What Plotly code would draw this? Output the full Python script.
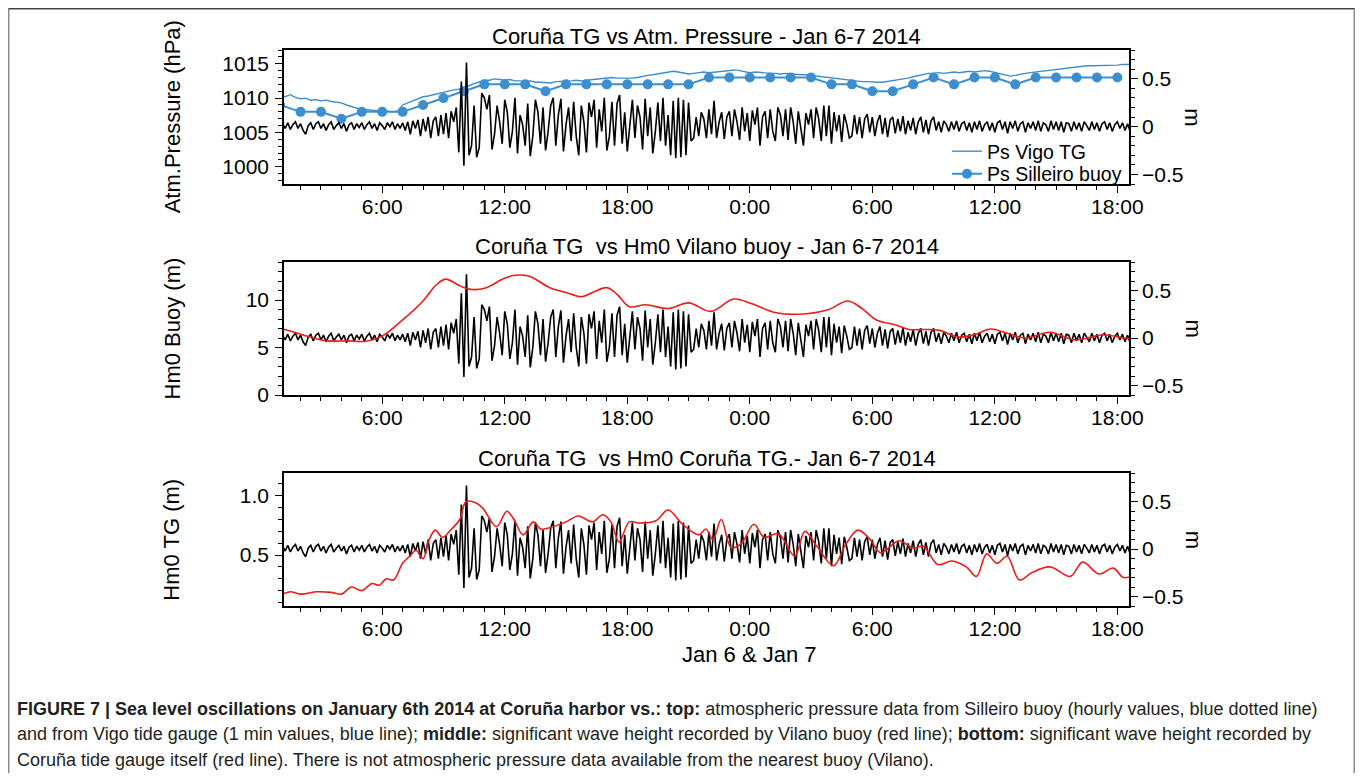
import numpy as np
import plotly.graph_objects as go

# ------------------------------------------------------------------ data
# time axis: hours since Jan 6 2014 00:00
hour_tick_vals = [6, 12, 18, 24, 30, 36, 42]
hour_tick_text = ['6:00', '12:00', '18:00', '0:00', '6:00', '12:00', '18:00']

# Coruña tide gauge sea-level oscillation (m), sampled every 7.5 min from 01:00 Jan 6
coruna_start_h = 1.0
coruna_step_h = 0.125
coruna_sea_level_m = [
    0.02, 0.03, -0.02, 0.04, -0.03, 0.02, 0.05, -0.02,    # 1h
    0.03, -0.04, -0.08, 0.01, 0.04, -0.03, 0.03, 0.05,    # 2h
    -0.02, 0.03, -0.04, 0.02, 0.05, -0.03, 0.01, 0.04,    # 3h
    -0.02, 0.03, -0.05, 0.02, 0.04, -0.03, 0.03, -0.01,   # 4h
    0.04, -0.03, 0.02, 0.05, -0.02, 0.03, -0.04, 0.04,    # 5h
    0.01, -0.03, 0.04, 0.00, 0.05, -0.03, 0.03, -0.02,    # 6h
    0.04, -0.04, 0.05, -0.08, 0.06, -0.02, 0.07, -0.10,   # 7h
    0.08, -0.05, 0.10, -0.12, 0.06, 0.10, -0.10, 0.12,    # 8h
    -0.08, 0.14, -0.12, 0.16, 0.05, 0.20, -0.27, 0.47,    # 9h
    -0.41, 0.67, -0.30, -0.20, 0.22, -0.32, -0.22, 0.35,  # 10h
    0.30, 0.18, 0.33, -0.24, -0.08, 0.22, 0.05, -0.18,    # 11h
    0.28, 0.15, -0.22, -0.05, 0.30, -0.28, 0.12, 0.02,    # 12h
    -0.20, 0.24, -0.31, -0.10, 0.28, 0.15, -0.18, 0.20,   # 13h
    -0.25, -0.05, 0.22, 0.30, -0.20, 0.12, 0.29, -0.26,   # 14h
    0.02, 0.20, -0.15, 0.26, -0.10, -0.30, 0.22, 0.05,    # 15h
    -0.27, 0.25, 0.10, 0.28, -0.22, 0.18, -0.05, 0.30,    # 16h
    -0.25, -0.10, 0.26, -0.20, 0.24, 0.33, -0.18, 0.15,   # 17h
    -0.26, 0.05, 0.28, -0.12, 0.22, 0.10, -0.24, 0.29,    # 18h
    -0.10, 0.20, -0.28, -0.05, 0.25, -0.15, 0.30, -0.20,  # 19h
    0.12, -0.30, 0.27, -0.33, 0.30, -0.32, 0.28, -0.30,   # 20h
    0.25, -0.15, -0.12, 0.10, -0.10, 0.15, 0.08, -0.12,   # 21h
    0.18, -0.08, 0.27, -0.12, 0.05, 0.15, -0.13, 0.10,    # 22h
    0.16, -0.10, 0.18, 0.05, -0.14, 0.20, -0.05, 0.14,    # 23h
    -0.15, 0.17, 0.02, 0.20, -0.20, 0.10, 0.16, -0.12,    # 24h
    0.18, -0.05, -0.15, 0.20, 0.12, -0.10, 0.18, -0.14,   # 25h
    0.20, 0.05, -0.18, 0.16, -0.05, -0.20, 0.14, 0.02,    # 26h
    0.18, -0.12, 0.20, 0.08, -0.15, 0.22, -0.10, 0.22,    # 27h
    -0.18, 0.15, -0.05, 0.12, -0.16, 0.13, 0.02, -0.12,   # 28h
    -0.10, 0.12, -0.08, 0.10, -0.12, 0.08, 0.13, -0.06,   # 29h
    0.10, -0.10, 0.05, 0.12, -0.08, 0.09, -0.11, 0.07,    # 30h
    0.10, -0.07, 0.08, -0.05, 0.11, -0.08, 0.06, -0.04,   # 31h
    0.09, -0.08, 0.05, 0.10, -0.06, 0.07, -0.08, 0.06,    # 32h
    0.10, -0.04, 0.05, -0.06, 0.06, 0.02, -0.05, 0.05,    # 33h
    -0.03, 0.06, -0.05, 0.03, 0.05, -0.04, 0.04, -0.06,   # 34h
    0.05, -0.03, 0.06, -0.05, 0.02, 0.05, -0.04, 0.04,    # 35h
    -0.06, 0.04, 0.06, -0.03, 0.05, -0.07, 0.05, -0.02,   # 36h
    0.06, -0.05, 0.03, 0.05, -0.06, 0.04, -0.02, 0.05,    # 37h
    -0.04, 0.06, -0.05, 0.04, 0.02, -0.05, 0.06, -0.03,   # 38h
    0.05, -0.04, 0.05, -0.06, 0.04, 0.03, -0.05, 0.05,    # 39h
    -0.03, 0.04, -0.05, 0.05, 0.01, -0.04, 0.05, -0.03,   # 40h
    0.04, -0.05, 0.03, 0.05, -0.03, 0.04, -0.05, 0.02,    # 41h
    0.05, -0.02, 0.04, -0.04, 0.03, -0.05, 0.02, 0.01,    # 42h
]

# Vigo tide gauge atmospheric pressure (hPa), every 15 min from 01:00 Jan 6
vigo_start_h = 1.0
vigo_step_h = 0.25
vigo_pressure_hpa = [
    1010.4, 1010.2, 1010.5, 1010.1, 1009.9, 1010.0, 1009.7, 1009.8,
    1009.6, 1009.7, 1009.5, 1009.4, 1009.3, 1009.0, 1008.8, 1008.5,
    1008.3, 1008.3, 1008.2, 1008.2, 1008.1, 1008.1, 1008.0, 1008.1,
    1009.0, 1009.3, 1009.6, 1009.9, 1010.2, 1010.3, 1010.5, 1010.7,
    1010.8, 1011.0, 1011.2, 1011.3, 1011.5, 1011.8, 1012.1, 1012.4,
    1012.6, 1012.6, 1012.8, 1012.7, 1012.6, 1012.7, 1012.5, 1012.5,
    1012.4, 1012.5, 1012.3, 1012.3, 1012.3, 1012.2, 1012.4, 1012.4,
    1012.5, 1012.5, 1012.6, 1012.5, 1012.6, 1012.7, 1012.8, 1012.9,
    1013.0, 1013.0, 1012.9, 1012.9, 1012.8, 1012.9, 1013.0, 1013.2,
    1013.3, 1013.4, 1013.5, 1013.6, 1013.8, 1013.9, 1013.8, 1013.6,
    1013.5, 1013.6, 1013.7, 1013.8, 1013.7, 1013.8, 1013.9, 1014.0,
    1014.0, 1014.1, 1014.0, 1013.8, 1013.7, 1013.8, 1013.7, 1013.6,
    1013.6, 1013.6, 1013.5, 1013.6, 1013.5, 1013.5, 1013.4, 1013.4,
    1013.3, 1013.2, 1013.1, 1013.0, 1012.9, 1012.8, 1012.7, 1012.6,
    1012.5, 1012.5, 1012.4, 1012.4, 1012.3, 1012.3, 1012.3, 1012.4,
    1012.5, 1012.6, 1012.8, 1012.9, 1013.1, 1013.3, 1013.5, 1013.6,
    1013.6, 1013.7, 1013.6, 1013.7, 1013.8, 1013.7, 1013.8, 1013.9,
    1013.8, 1013.9, 1014.0, 1013.9, 1013.7, 1013.5, 1013.3, 1013.2,
    1013.3, 1013.5, 1013.6, 1013.7, 1013.8, 1013.8, 1013.9, 1014.0,
    1014.1, 1014.2, 1014.4, 1014.5, 1014.6, 1014.6, 1014.7, 1014.7,
    1014.7, 1014.8, 1014.8, 1014.8, 1014.8, 1014.9, 1014.9, 1014.9,
]

# Silleiro buoy atmospheric pressure (hPa), hourly
silleiro_hours = list(range(1, 43))
silleiro_pressure_hpa = [
    1009, 1008, 1008, 1007, 1008, 1008, 1008, 1009, 1010, 1011,
    1012, 1012, 1012, 1011, 1012, 1012, 1012, 1012, 1012, 1012,
    1012, 1013, 1013, 1013, 1013, 1013, 1013, 1012, 1012, 1011,
    1011, 1012, 1013, 1012, 1013, 1013, 1012, 1013, 1013, 1013,
    1013, 1013,
]

# Hm0 Vilano buoy (m)
vilano_hours = [1.0, 1.23, 2.3, 3.3, 4.4, 5.2, 6.0, 7.0, 8.0, 8.6, 9.1, 9.8,
                10.4, 11.1, 11.9, 12.5, 13.2, 14.2, 15.0, 15.8, 16.3, 17.0,
                17.5, 18.1, 18.9, 20.0, 21.0, 22.1, 23.2, 24.1, 25.3, 26.4,
                27.8, 28.8, 29.5, 30.2, 31.1, 31.8, 32.6, 33.3, 34.2, 35.0,
                35.8, 36.6, 37.5, 38.7, 39.9, 41.3, 42.3, 42.8]
vilano_hm0_m = [7.0, 6.9, 6.2, 5.7, 5.7, 5.65, 6.2, 7.9, 9.9, 11.5, 12.2, 11.5,
                11.1, 11.3, 12.2, 12.6, 12.5, 11.3, 10.8, 10.35, 10.8, 11.3,
                10.6, 9.3, 9.5, 9.1, 9.7, 8.8, 10.1, 9.6, 8.65, 8.5,
                8.95, 9.9, 9.1, 7.9, 7.4, 6.9, 6.9, 6.8, 6.1, 6.35,
                6.95, 6.5, 6.0, 6.6, 5.8, 6.35, 6.0, 5.9]

# Hm0 Coruña tide gauge (m)
tg_hours = [1.0, 1.23, 1.5, 2.0, 2.8, 3.5, 4.0, 4.5, 5.0, 5.5, 5.85, 6.2, 6.55,
            7.0, 7.4, 7.65, 8.0, 8.3, 8.6, 8.95, 9.4, 9.8, 10.1, 10.6, 10.95,
            11.6, 12.1, 12.45, 12.9, 13.4, 13.75, 14.2, 15.0, 15.6, 16.3, 16.8,
            17.2, 17.6, 18.1, 18.6, 19.4, 20.0, 20.7, 21.5, 21.85, 22.2, 22.6,
            23.1, 23.6, 24.2, 24.7, 25.4, 26.2, 26.7, 27.3, 28.1, 28.7, 29.3,
            29.9, 30.4, 31.3, 32.0, 32.5, 33.2, 33.9, 34.6, 35.1, 35.6, 36.1,
            36.6, 37.2, 37.8, 38.7, 39.7, 40.3, 41.1, 41.8, 42.3, 42.8]
tg_hm0_m = [0.18, 0.177, 0.19, 0.17, 0.19, 0.185, 0.17, 0.23, 0.20, 0.26, 0.245, 0.30, 0.29,
            0.43, 0.50, 0.54, 0.47, 0.63, 0.71, 0.65, 0.72, 0.80, 0.95, 0.94, 0.89,
            0.74, 0.87, 0.80, 0.67, 0.78, 0.72, 0.73, 0.78, 0.83, 0.78, 0.84,
            0.78, 0.61, 0.78, 0.77, 0.79, 0.88, 0.76, 0.67, 0.72, 0.63, 0.80,
            0.56, 0.60, 0.76, 0.65, 0.68, 0.49, 0.70, 0.57, 0.41, 0.59, 0.71,
            0.63, 0.52, 0.62, 0.56, 0.575, 0.42, 0.45, 0.40, 0.32, 0.51, 0.43,
            0.49, 0.29, 0.35, 0.40, 0.32, 0.44, 0.34, 0.39, 0.31, 0.33]

titles = ['Coruña TG vs Atm. Pressure - Jan 6-7 2014',
          'Coruña TG  vs Hm0 Vilano buoy - Jan 6-7 2014',
          'Coruña TG  vs Hm0 Coruña TG.- Jan 6-7 2014']
left_titles = ['Atm.Pressure (hPa)', 'Hm0 Buoy (m)', 'Hm0 TG (m)']

# ------------------------------------------------------------------ figure
# the page body adds an 8px margin; the figure is sized to fit inside the window
OFF = 8
W, H = 1363 - 2 * OFF, 781 - 2 * OFF
ML = 284 - OFF                  # left axis at window x=284
PLOT_R = 1129 - OFF             # right axis at window x=1129
PLOT_T = 50 - OFF               # top of first panel at window y=50
PLOT_B = 606 - OFF              # bottom of last panel at window y=606
MR, MT, MB = W - PLOT_R, PLOT_T, H - PLOT_B
PW, PH = W - ML - MR, H - MT - MB


def px_x(p):
    """window pixel x -> paper x"""
    return (p - OFF - ML) / PW


def px_y(p):
    """window pixel y -> paper y"""
    return (PLOT_B - (p - OFF)) / PH


FONT = 'Liberation Sans, Arial, Helvetica, sans-serif'
BLUE = '#3d8ecf'
RED = '#ee1b1b'

coruna_t = coruna_start_h + coruna_step_h * np.arange(len(coruna_sea_level_m))
vigo_t = vigo_start_h + vigo_step_h * np.arange(len(vigo_pressure_hpa))

fig = go.Figure()
# top panel
fig.add_trace(go.Scatter(x=vigo_t, y=vigo_pressure_hpa, xaxis='x', yaxis='y',
                         mode='lines', line=dict(color=BLUE, width=1.4),
                         name='Ps Vigo TG', legend='legend'))
fig.add_trace(go.Scatter(x=silleiro_hours, y=silleiro_pressure_hpa, xaxis='x', yaxis='y',
                         mode='lines+markers', line=dict(color=BLUE, width=2),
                         marker=dict(color=BLUE, size=10), name='Ps Silleiro buoy',
                         legend='legend2'))
fig.add_trace(go.Scatter(x=coruna_t, y=coruna_sea_level_m, xaxis='x', yaxis='y2',
                         mode='lines', line=dict(color='black', width=1.6),
                         showlegend=False))
# middle panel
fig.add_trace(go.Scatter(x=coruna_t, y=coruna_sea_level_m, xaxis='x2', yaxis='y3',
                         mode='lines', line=dict(color='black', width=1.6),
                         showlegend=False))
fig.add_trace(go.Scatter(x=vilano_hours, y=vilano_hm0_m, xaxis='x2', yaxis='y4',
                         mode='lines', line=dict(color=RED, width=1.6, shape='spline', smoothing=1),
                         showlegend=False))
# bottom panel
fig.add_trace(go.Scatter(x=coruna_t, y=coruna_sea_level_m, xaxis='x3', yaxis='y5',
                         mode='lines', line=dict(color='black', width=1.6),
                         showlegend=False))
fig.add_trace(go.Scatter(x=tg_hours, y=tg_hm0_m, xaxis='x3', yaxis='y6',
                         mode='lines', line=dict(color=RED, width=1.6, shape='spline', smoothing=1),
                         showlegend=False))

TICKFONT = dict(family=FONT, size=21, color='black')


def minor(dt, t0=0):
    return dict(ticks='outside', ticklen=4, tickwidth=1.4, tickcolor='black',
                tickmode='linear', tick0=t0, dtick=dt, showgrid=False)


def xaxis(anchor):
    return dict(anchor=anchor, domain=[0, 1], range=[1.19, 42.57],
                tickmode='array', tickvals=hour_tick_vals, ticktext=hour_tick_text,
                ticks='outside', ticklen=7, tickwidth=1.4, tickcolor='black',
                showline=True, linecolor='black', linewidth=1.6, mirror=True,
                showgrid=False, zeroline=False, tickfont=TICKFONT,
                ticklabelstandoff=-4, minor=minor(1))


def yaxis(rng, t0, dt, mdt, side, domain=None, overlay=None, anchor='x', fmt=None):
    d = dict(range=rng, tickmode='linear', tick0=t0, dtick=dt, side=side, anchor=anchor,
             ticks='outside', ticklen=7, tickwidth=1.4, tickcolor='black',
             showline=True, linecolor='black', linewidth=1.6,
             showgrid=False, zeroline=False, tickfont=TICKFONT,
             ticklabelstandoff=(2 if side == 'left' else 0), minor=minor(mdt, t0))
    if domain is not None:
        d['domain'] = domain
    if overlay is not None:
        d['overlaying'] = overlay
    if fmt is not None:
        d['tickformat'] = fmt
    return d


dom_top = [px_y(184), 1.0]
dom_mid = [px_y(395), px_y(262)]
dom_bot = [0.0, px_y(473.3)]

LEGFONT = dict(family=FONT, size=19.5, color='black')
fig.update_layout(
    width=W, height=H,
    margin=dict(l=ML, r=MR, t=MT, b=MB, pad=0),
    paper_bgcolor='white', plot_bgcolor='white',
    font=dict(family=FONT, color='black', size=21),
    xaxis=xaxis('y'),
    xaxis2=xaxis('y3'),
    xaxis3=xaxis('y5'),
    yaxis=yaxis([997.5, 1017], 1000, 5, 1, 'left', domain=dom_top, anchor='x'),
    yaxis2=yaxis([-0.6, 0.8], 0, 0.5, 0.1, 'right', overlay='y', anchor='x'),
    yaxis3=yaxis([-0.6, 0.8], 0, 0.5, 0.1, 'right', domain=dom_mid, anchor='x2'),
    yaxis4=yaxis([0, 14], 0, 5, 1, 'left', overlay='y3', anchor='x2'),
    yaxis5=yaxis([-0.6, 0.8], 0, 0.5, 0.1, 'right', domain=dom_bot, anchor='x3'),
    yaxis6=yaxis([0.07, 1.19], 0, 0.5, 0.1, 'left', overlay='y5', anchor='x3', fmt='.1f'),
    showlegend=True,
    legend=dict(x=px_x(947), xanchor='left', y=px_y(151.5), yanchor='middle',
                bgcolor='rgba(0,0,0,0)', borderwidth=0, font=LEGFONT, itemwidth=30),
    legend2=dict(x=px_x(947), xanchor='left', y=px_y(174), yanchor='middle',
                 bgcolor='rgba(0,0,0,0)', borderwidth=0, font=LEGFONT, itemwidth=30),
)

ann = []
title_y = [37, 246, 458]
panel_centers = [117.3, 328.5, 539.7]
for t, ty in zip(titles, title_y):
    ann.append(dict(text=t, x=0.5, y=px_y(ty), xref='paper', yref='paper',
                    xanchor='center', yanchor='middle', showarrow=False,
                    font=dict(family=FONT, size=22, color='black')))
for t, cy in zip(left_titles, panel_centers):
    ann.append(dict(text=t, x=px_x(172), y=px_y(cy), xref='paper', yref='paper',
                    xanchor='center', yanchor='middle', showarrow=False, textangle=-90,
                    font=dict(family=FONT, size=22, color='black')))
    ann.append(dict(text='m', x=px_x(1193), y=px_y(cy), xref='paper', yref='paper',
                    xanchor='center', yanchor='middle', showarrow=False, textangle=90,
                    font=dict(family=FONT, size=22, color='black')))
ann.append(dict(text='Jan 6 & Jan 7', x=24, y=px_y(655), xref='x3', yref='paper',
                xanchor='center', yanchor='middle', showarrow=False,
                font=dict(family=FONT, size=22, color='black')))

caption_lines = [
    '<b>FIGURE 7 | Sea level oscillations on January 6th 2014 at Coruña harbor vs.: top:</b> '
    'atmospheric pressure data from Silleiro buoy (hourly values, blue dotted line)',
    'and from Vigo tide gauge (1 min values, blue line); <b>middle:</b> significant wave height '
    'recorded by Vilano buoy (red line); <b>bottom:</b> significant wave height recorded by',
    'Coruña tide gauge itself (red line). There is not atmospheric pressure data available '
    'from the nearest buoy (Vilano).',
]
for line, cy in zip(caption_lines, [709, 734, 760]):
    ann.append(dict(text=line, x=px_x(15), y=px_y(cy), xref='paper', yref='paper',
                    xanchor='left', yanchor='middle', showarrow=False, align='left',
                    font=dict(family=FONT, size=18, color='#231f20')))
fig.update_layout(annotations=ann)

fig.update_layout(shapes=[
    dict(type='rect', xref='paper', yref='paper',
         x0=px_x(8.75), x1=px_x(1354.25), y0=px_y(800), y1=px_y(8.75),
         line=dict(color='#8c8c8c', width=1.5), fillcolor='rgba(0,0,0,0)', layer='below'),
    dict(type='line', xref='paper', yref='paper',
         x0=px_x(8.75), x1=px_x(1354.25), y0=px_y(8.6), y1=px_y(8.6),
         line=dict(color='#444444', width=1.2)),
])

fig.write_html('out.html', config={'displayModeBar': False})
